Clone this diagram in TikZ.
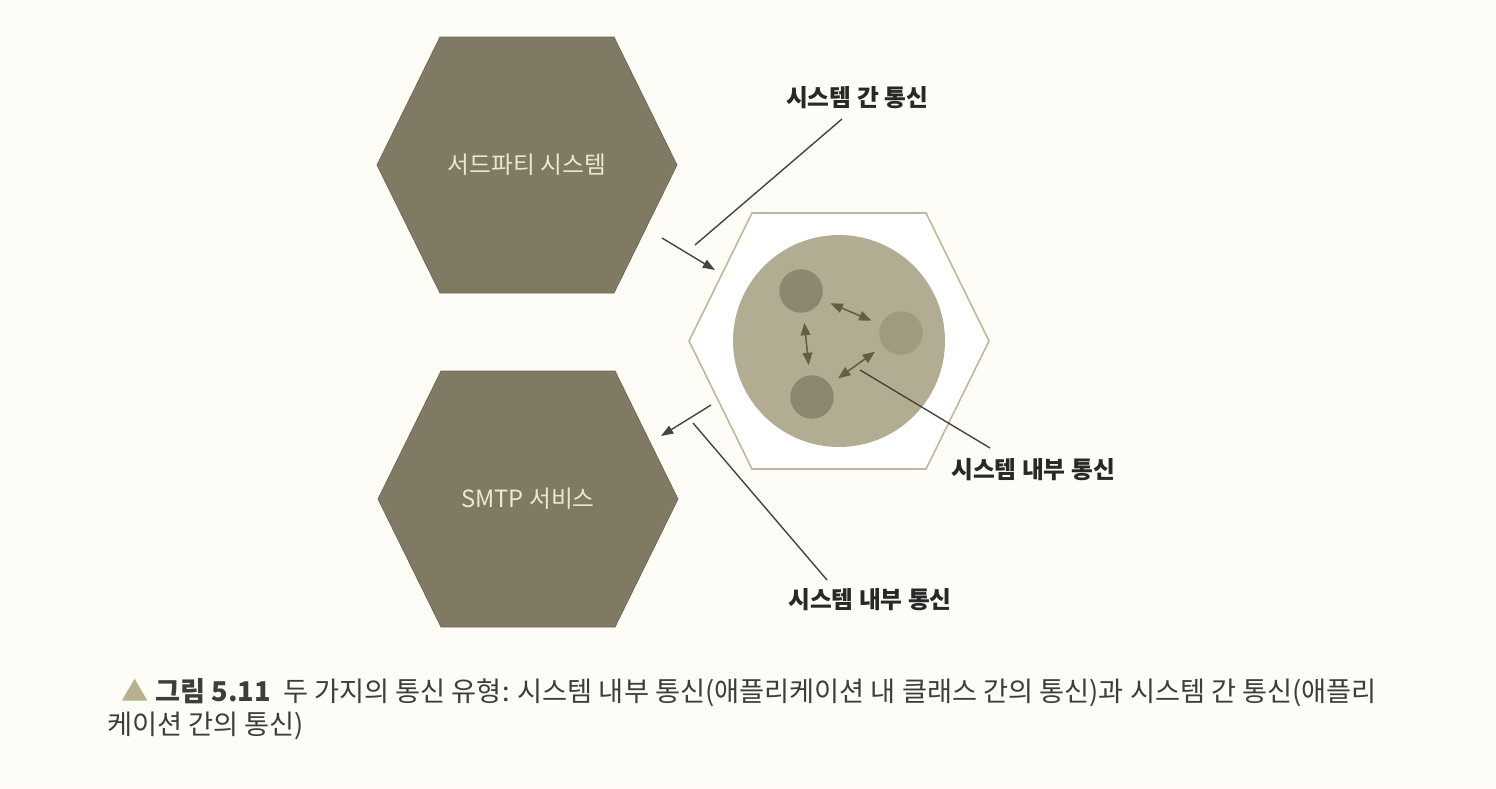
\documentclass[tikz,border=0pt]{standalone}
\usepackage{fontspec}
\setmainfont{Noto Sans CJK KR}
\usetikzlibrary{arrows.meta}
\definecolor{paper}{RGB}{253,252,247}
\definecolor{hexolive}{RGB}{128,122,100}
\definecolor{hextext}{RGB}{236,231,206}
\definecolor{framecol}{RGB}{190,184,152}
\definecolor{corecol}{RGB}{178,173,146}
\definecolor{partcol}{RGB}{140,135,110}
\definecolor{partlight}{RGB}{160,155,128}
\definecolor{pairarrow}{RGB}{100,94,68}
\definecolor{leadcol}{RGB}{70,68,60}
\definecolor{labelcol}{RGB}{40,40,38}
\definecolor{captri}{RGB}{184,176,142}
\begin{document}
\begin{tikzpicture}[x=0.02cm,y=-0.02cm]

% half width, half top edge, half height of each hexagon
\def\hw{150}
\def\te{87}
\def\hh{128}
% style definition
\tikzstyle{hexa} = [fill=hexolive, draw=hexolive!85!black, line width=0.4pt];
\tikzstyle{frame} = [draw=framecol, line width=0.9pt, fill=white];
\tikzstyle{inner} = [font=\fontsize{13.5}{15}\selectfont, text=hextext];
\tikzstyle{label} = [font=\bfseries\fontsize{13.5}{16}\selectfont, text=labelcol];
\tikzstyle{part} = [circle, fill=partcol, minimum size=0.87cm, inner sep=0pt];
\tikzstyle{pair} = [draw=pairarrow, line width=0.9pt,
	{Triangle[length=7pt,width=5.5pt]}-{Triangle[length=7pt,width=5.5pt]},
	shorten <=0.2cm, shorten >=0.2cm];
\tikzstyle{lead} = [draw=leadcol, line width=0.8pt];
\tikzstyle{flow} = [draw=leadcol, line width=0.8pt, -{Triangle[length=7pt,width=5pt]}];
\tikzstyle{caption} = [anchor=base west, inner sep=0pt,
	font=\fontsize{15.5}{18}\selectfont, text=labelcol!90!white];

\useasboundingbox[fill=paper] (0,0) rectangle (1496,788);

\coordinate (h1) at (527,165);
\coordinate (h2) at (528,499);
\coordinate (sys) at (839,341);

\foreach \c/\s in {h1/hexa, h2/hexa, sys/frame}
	\draw[\s] (\c) ++(-\hw,0) -- ++(\hw-\te,-\hh) -- ++(2*\te,0)
		-- ++(\hw-\te,\hh) -- ++(-\hw+\te,\hh) -- ++(-2*\te,0) -- cycle;

\node[inner] (third) at (h1) {서드파티 시스템};
\node[inner] (smtp) at (h2) {SMTP 서비스};

% the application and its classes
\node[circle, fill=corecol, minimum size=4.24cm, inner sep=0pt] (core) at (sys) {};
\node[part] (c1) at (801,291) {};
\node[part, fill=partlight] (c2) at (901,333) {};
\node[part] (c3) at (812,397) {};
\draw[pair] (c1) -- (c2);
\draw[pair] (c1) -- (c3);
\draw[pair] (c2) -- (c3);

% labels
\node[label] (between) at (857,98) {시스템 간 통신};
\node[label] (inlabel) at (1033,470) {시스템 내부 통신};
\node[label] (outlabel) at (870,600) {시스템 내부 통신};

\coordinate (inpt) at (860,370);
\coordinate (inend) at (990,448);
\draw[lead] (inpt) -- (inend);

\coordinate (fromthird) at (662,238);
\coordinate (tosys) at (715,270);
\draw[flow] (fromthird) -- (tosys);
\coordinate (topfoot) at (695,245);
\coordinate (tophead) at (842,119);
\draw[lead] (topfoot) -- (tophead);

\coordinate (fromsys) at (711,405);
\coordinate (tosmtp) at (661,436);
\draw[flow] (fromsys) -- (tosmtp);
\coordinate (lowfoot) at (693,423);
\coordinate (lowhead) at (827,580);
\draw[lead] (lowfoot) -- (lowhead);

% caption
\node[caption] (cap1) at (121,701) {\textcolor{captri}{▲}\hspace{0.25em}\textbf{그림 5.11}\hspace{0.45em}두 가지의 통신 유형: 시스템 내부 통신(애플리케이션 내 클래스 간의 통신)과 시스템 간 통신(애플리};
\node[caption] (cap2) at (107,734) {케이션 간의 통신)};

\end{tikzpicture}
\end{document}
